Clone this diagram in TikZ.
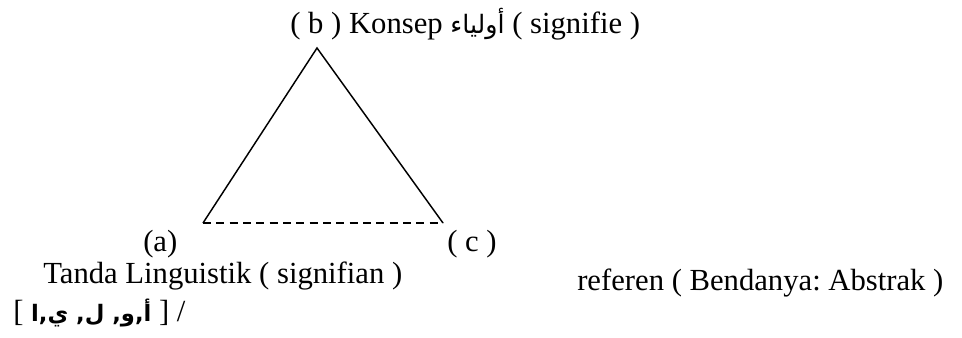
\documentclass[tikz,border=0pt]{standalone}
\usepackage{fontspec}
\setmainfont{Liberation Serif}
\newfontfamily\arabicfont[Script=Arabic]{DejaVu Sans}
\TeXXeTstate=1
\frenchspacing
\usetikzlibrary{positioning}

\begin{document}
\begin{tikzpicture}[x=0.75pt, y=-0.75pt,
          lbl/.style={anchor=base west, inner sep=0pt, font=\fontsize{23}{27}\selectfont},
          side/.style={line width=1.1pt},
          base/.style={line width=1.1pt, dash pattern=on 6pt off 4pt}
        ]
        \useasboundingbox (0,0) rectangle (962,337);

        % triangle corners
        \coordinate (vb) at (317,48);
        \coordinate (va) at (203,223);
        \coordinate (vc) at (443,223);

        % concept (top)
        \node[lbl] (konsep) at (290,33)
              {( b ) Konsep {\arabicfont\fontsize{19}{24}\selectfont\beginR أولياء\endR} ( signifie )};
        % corner labels
        \node[lbl] (la) at (143,251) {(a)};
        \node[lbl] (lc) at (447,251) {( c )};
        % sign and referent
        \node[lbl] (tanda) at (43,283) {Tanda Linguistik ( signifian )};
        \node[lbl] (referen) at (577,290) {referen ( Bendanya: Abstrak )};
        \node[lbl] (huruf) at (13,321)
              {[ {\arabicfont\bfseries\fontsize{17}{22}\selectfont\beginR أ,و, ل, ي,ا\endR} ] /};

        \draw[side] (va) -- (vb) -- (vc);
        \draw[base] (va) -- (vc);
      \end{tikzpicture}
\end{document}
